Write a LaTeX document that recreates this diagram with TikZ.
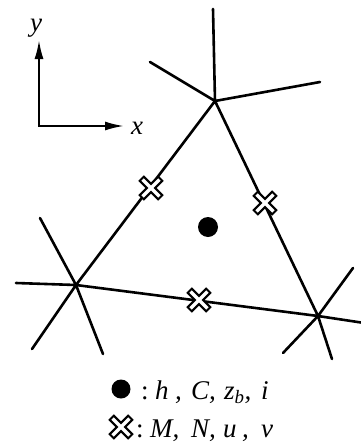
\documentclass[tikz,border=0pt]{standalone}
\usepackage{fontspec}
\setmainfont{Liberation Serif}
\usetikzlibrary{calc,arrows.meta}
\begin{document}
\begin{tikzpicture}[x=1pt,y=-1pt,
  edge/.style={line width=2.6pt, line cap=round},
  axisline/.style={line width=2pt, {Latex[length=19pt,width=9pt]}-{Latex[length=19pt,width=9pt]}},
  lbl/.style={font=\fontsize{27}{30}\selectfont\itshape, inner sep=0pt, anchor=base west},
  colon/.style={font=\fontsize{27}{30}\selectfont, inner sep=0pt, anchor=base west},
  axlbl/.style={font=\fontsize{27}{30}\selectfont\itshape, inner sep=0pt},
  hcross/.pic={
    \draw[line width=8pt] (-9.9,-9.9)--(9.9,9.9) (-9.9,9.9)--(9.9,-9.9);
    \draw[white, line width=3.5pt] (-8.4,-8.4)--(8.4,8.4) (-8.4,8.4)--(8.4,-8.4);
  }
]
\useasboundingbox (0,0) rectangle (361,445);

% axes
\coordinate (O) at (39,126);
\coordinate (Ytip) at (39,40);
\coordinate (Xtip) at (124,126);
\draw[axisline] (Ytip) -- (O) -- (Xtip);
\node[axlbl] (ylab) at (36,28) {y};
\node[axlbl] (xlab) at (137,128) {x};

% vertices
\coordinate (T) at (215,101);
\coordinate (L) at (76,285);
\coordinate (R) at (318,316);

% ray ends
\coordinate (T1) at (213,9);
\coordinate (T2) at (150,62);
\coordinate (T3) at (320,82);
\coordinate (L1) at (40,218);
\coordinate (L2) at (16,283);
\coordinate (L3) at (32,349);
\coordinate (L4) at (103,354);
\coordinate (R1) at (353,268);
\coordinate (R2) at (283,353);
\coordinate (R3) at (332,359);
\coordinate (R4) at (361,322.5);

% triangle
\draw[edge] (T) -- (L) -- (R) -- cycle;
% rays
\draw[edge] (T) -- (T1) (T) -- (T2) (T) -- (T3);
\draw[edge] (L) -- (L1) (L) -- (L2) (L) -- (L3) (L) -- (L4);
\draw[edge] (R) -- (R1) (R) -- (R2) (R) -- (R3) (R) -- (R4);

% markers
\fill (208,227) circle (10);
\pic at (151,188) {hcross};
\pic at (265,203) {hcross};
\pic at (199,300) {hcross};

% legend
\fill (121,389) circle (9.5);
\pic at (121,427) {hcross};
\node[colon] (c1) at (141,399) {:};
\node[lbl] (h) at (155,399) {h};
\node[lbl] (hc) at (175,399) {,};
\node[lbl] (C) at (191,399) {C,};
\node[lbl] (zb) at (224,399) {z\textsubscript{b},};
\node[lbl] (i) at (261,399) {i};
\node[colon] (c2) at (136,437) {:};
\node[lbl] (M) at (150,437) {M,};
\node[lbl] (N) at (191,437) {N,};
\node[lbl] (u) at (223,437) {u};
\node[lbl] (uc) at (242,437) {,};
\node[lbl] (v) at (261,437) {v};
\end{tikzpicture}
\end{document}
